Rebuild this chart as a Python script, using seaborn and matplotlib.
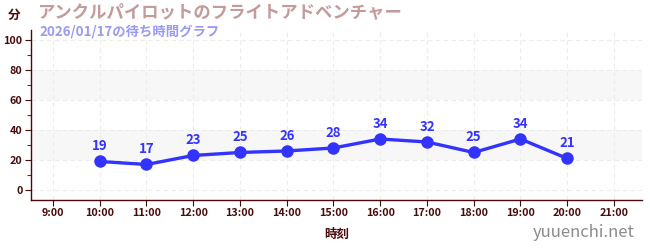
import matplotlib
matplotlib.use("Agg")
import matplotlib.pyplot as plt
import seaborn as sns
import pandas as pd
from matplotlib.ticker import MultipleLocator

hours = [10, 11, 12, 13, 14, 15, 16, 17, 18, 19, 20]
waits = [19, 17, 23, 25, 26, 28, 34, 32, 25, 34, 21]
tick_hours = list(range(9, 22))
tick_labels = [f"{h}:00" for h in tick_hours]
title = "アンクルパイロットのフライトアドベンチャー"
subtitle = "2026/01/17の待ち時間グラフ"
xlabel = "時刻"
ylabel = "分"
watermark = "yuuenchi.net"

sns.set_theme(style="white")
plt.rcParams['font.family'] = ['Noto Sans CJK JP', 'DejaVu Sans']

df = pd.DataFrame({"hour": hours, "wait": waits})

fig = plt.figure(figsize=(6.5, 2.5), dpi=100)
ax = fig.add_axes([0.0477, 0.2, 0.94, 0.68])

dark = "#4a0a0a"
blue = "#3333ff"

# shaded bands
for lo, hi in [(20, 40), (60, 80)]:
    ax.axhspan(lo, hi, color="#f7f7f7", zorder=0, lw=0)

sns.lineplot(data=df, x="hour", y="wait", ax=ax, color=blue, lw=2.4,
             marker="o", markersize=9, markeredgewidth=0, zorder=3)

for h, w in zip(hours, waits):
    ax.annotate(str(w), (h, w), xytext=(0, 6), textcoords="offset points",
                ha="center", va="bottom", color=blue, fontsize=9.5,
                fontweight="bold")

ax.set_xlim(8.53, 21.6)
ax.set_ylim(-6.7, 106.7)
ax.set_xticks(tick_hours)
ax.set_xticklabels(tick_labels)
ax.yaxis.set_major_locator(MultipleLocator(20))
ax.yaxis.set_minor_locator(MultipleLocator(10))
ax.set_yticks([0, 20, 40, 60, 80, 100])

ax.grid(True, which="major", axis="both", color="#ececec", ls=(0, (4, 3)), lw=0.8)
ax.set_axisbelow(True)

for s in ["top", "right"]:
    ax.spines[s].set_visible(False)
for s in ["left", "bottom"]:
    ax.spines[s].set_color(dark)
    ax.spines[s].set_linewidth(1.0)

ax.tick_params(axis="both", which="major", length=4, width=0.8, color=dark,
               labelcolor=dark, labelsize=7.8, pad=2, left=True, bottom=True)
ax.tick_params(axis="y", which="minor", length=3, width=0.8, color="#cc0000", left=True)
for lab in ax.get_xticklabels() + ax.get_yticklabels():
    lab.set_fontweight("bold")

ax.set_xlabel(xlabel, color=dark, fontsize=9, fontweight="bold", labelpad=7)
ax.set_ylabel("")

fig.text(0.022, 0.94, ylabel, color=dark, fontsize=9, fontweight="bold",
         ha="center", va="center")
fig.text(0.057, 0.95, title, color="#c49a9a", fontsize=12.5, fontweight="bold",
         ha="left", va="center")
fig.text(0.061, 0.875, subtitle, color="#9a9af0", fontsize=9.6, fontweight="bold",
         ha="left", va="center")
fig.text(0.977, 0.07, watermark, color="#8a8a8a", fontsize=12,
         ha="right", va="center")

fig.savefig("out.png", dpi=100)
